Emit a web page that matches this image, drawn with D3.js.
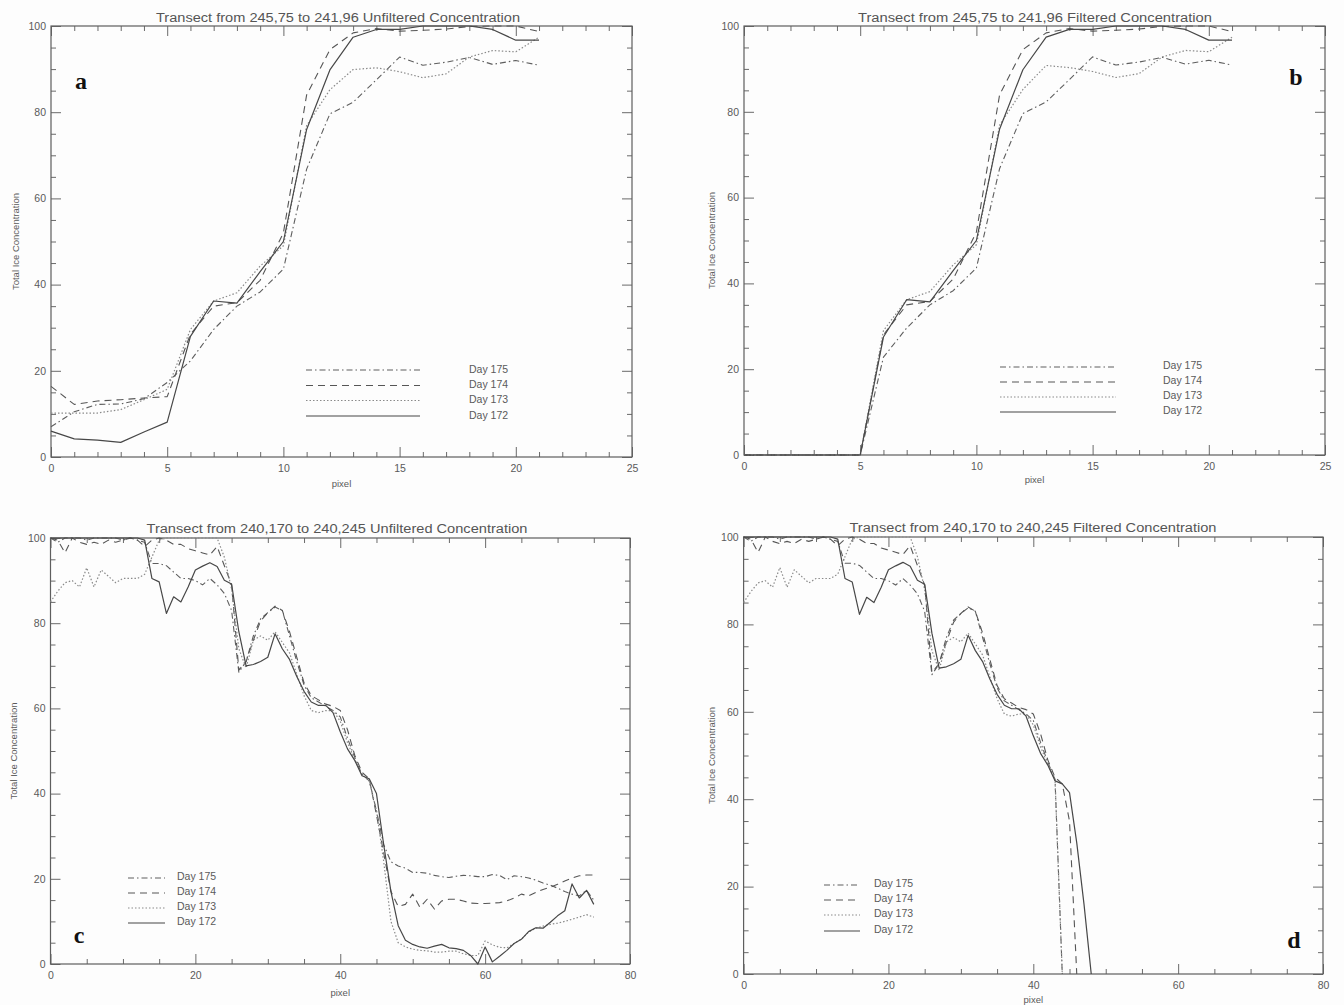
<!DOCTYPE html>
<html><head><meta charset="utf-8">
<script src="https://cdn.jsdelivr.net/npm/d3@7"></script>
<style>body{margin:0;background:#fdfdfd}svg{display:block}</style>
</head><body>
<script>
// ---------- DATA ----------
const days = ["Day 175", "Day 174", "Day 173", "Day 172"];

const pixelsTop = [0,1,2,3,4,5,6,7,8,9,10,11,12,13,14,15,16,17,18,19,20,21];
const pixelsBottom = [0,1,2,3,4,5,6,7,8,9,10,11,12,13,14,15,16,17,18,19,20,21,22,23,24,25,26,27,28,29,30,31,32,33,34,35,36,37,38,39,40,41,42,43,44,45,46,47,48,49,50,51,52,53,54,55,56,57,58,59,60,61,62,63,64,65,66,67,68,69,70,71,72,73,74,75];

const xTicksTop = [0,5,10,15,20,25];
const xTicksBottom = [0,20,40,60,80];
const yTicks = [0,20,40,60,80,100];

// panel a: unfiltered, transect 245,75 -> 241,96
const a175 = [7.0,10.5,12.2,12.3,13.5,17.3,22.3,29.6,35.0,38.3,43.6,66.8,79.6,82.3,87.5,92.8,90.9,91.6,92.7,91.1,92.0,90.9];
const a174 = [16.4,12.2,13.0,13.3,13.7,14.0,28.5,35.0,35.8,41.0,52.0,84.0,94.5,98.4,99.4,98.8,99.0,99.3,99.9,100,100,98.7];
const a173 = [10.2,10.2,10.2,11.0,13.3,15.7,29.6,36.2,38.1,44.3,49.0,76.9,85.2,89.9,90.3,89.4,88.0,88.9,92.8,94.3,94.0,97.4];
const a172 = [6.0,4.2,3.9,3.4,5.8,8.1,28.0,36.2,35.7,43.0,50.0,76.0,89.8,97.4,99.2,99.2,100,100,100,99.2,96.7,96.7];

// panel b: filtered, transect 245,75 -> 241,96
const b175 = [0,0,0,0,0,0,22.8,29.6,35.0,38.3,43.6,66.8,79.6,82.3,87.5,92.8,90.9,91.6,92.7,91.1,92.0,90.9];
const b174 = [0,0,0,0,0,0,28.0,35.0,35.8,41.0,52.0,84.0,94.5,98.4,99.4,98.8,99.0,99.3,99.9,100,100,98.7];
const b173 = [0,0,0,0,0,0,29.0,36.2,38.1,44.3,49.0,76.9,85.2,90.8,90.3,89.4,88.0,88.9,92.8,94.3,94.0,97.4];
const b172 = [0,0,0,0,0,0,27.5,36.2,35.7,43.0,50.0,76.0,89.8,97.4,99.2,99.2,100,100,100,99.2,96.7,96.7];

// panel c: unfiltered, transect 240,170 -> 240,245
const c175 = [100,99,100,100,100,99.5,100,100,100,100,99.5,100,99.5,99,
  94,94,93.5,92,90.5,90.5,90,89,90.5,89,87,83,
  68.5,71,77,81,82.5,83.8,83,77,71,65.5,62.5,61.5,60.5,59.5,58,53,48.5,44.5,43,36,28,24,23,22.5,
  21.5,21.5,21.3,20.8,20.5,20.3,20.6,20.8,20.7,20.5,20.5,21,20.8,19.8,20.7,20.5,20.2,19.7,19,18.5,17.8,17,16.4,16,17.3,15];
const c174 = [100,99.5,96.5,100,99,98.5,99,98.5,99.5,99,99.5,100,99.5,98,
  99.5,100,99.5,98.5,98.5,97.5,97,96.5,96,98,93.5,89,
  69,71,76,80.5,82.5,84,83,78,72,66,63,62,61,60.5,59.5,55,49,45,43.5,35,26,17,13.5,14,
  16.4,13.3,15.2,12.9,14.8,15.2,15.2,14.8,14.3,14.2,14.2,14.3,14.4,14.8,15.5,16.4,16,16.8,17.5,18,18.7,19.5,20.2,20.7,20.9,20.9];
const c173 = [85,87.5,89.5,90,88.5,93,88.5,92.5,91,89.5,90.5,90.5,90.5,91.5,
  95.5,99.5,100,100,100,100,100,100,100,100,95.5,88,
  74,69.5,76,77,76,78,75.5,73,68,63,59.5,59,59.5,59.5,57,52,48,44.5,43,36,24,10,5,4,
  3.5,3.2,3.1,2.8,2.8,3,3,2.4,2,2,5.4,4.5,3.9,3.8,4.8,5.8,7.5,8.4,8.9,9.3,9.6,10,10.5,11,11.6,11];
const c172 = [100,100,100,100,100,100,100,100,100,100,100,100,100,99.5,
  90.5,89.7,82.3,86.2,85,88.5,92.5,93.4,94.2,93.3,90.1,89.2,
  78,70,70.3,71,72,77.5,74,71.5,67.5,64,61.5,60.7,60.7,59,54.5,50.5,47.8,44.2,43.5,40,28,17,9,5.6,
  4.6,4,3.7,4.2,4.6,3.8,3.6,3.2,2,0,4,0.5,1.8,3.2,4.8,5.8,7.6,8.5,8.4,9.8,11.3,12.5,18.8,15.5,17.3,14];

// panel d: filtered, transect 240,170 -> 240,245 (series end where they fall to 0)
const d175 = [100,99,100,100,100,99.5,100,100,100,100,99.5,100,99.5,99,
  94,94,93.5,92,90.5,90.5,90,89,90.5,89,87,83,
  68.5,71,77,81,82.5,83.8,83,77,71,65.5,62.5,61.5,60.5,59.5,58,53,48.5,44.5,0];
const d174 = [100,99.5,96.5,100,99,98.5,99,98.5,99.5,99,99.5,100,99.5,98,
  99.5,100,99.5,98.5,98.5,97.5,97,96.5,96,98,93.5,89,
  69,71,76,80.5,82.5,84,83,78,72,66,63,62,61,60.5,59.5,55,49,45,43.5,35,0];
const d173 = [85,87.5,89.5,90,88.5,93,88.5,92.5,91,89.5,90.5,90.5,90.5,91.5,
  95.5,99.5,100,100,100,100,100,100,100,100,95.5,88,
  74,69.5,76,77,76,78,75.5,73,68,63,59.5,59,59.5,59.5,57,52,48,44.5,0];
const d172 = [100,100,100,100,100,100,100,100,100,100,100,100,100,99.5,
  90.5,89.7,82.3,86.2,85,88.5,92.5,93.4,94.2,93.3,90.1,89.2,
  78,70,70.3,71,72,77.5,74,71.5,67.5,64,61.5,60.7,60.7,59,54.5,50.5,47.8,44.2,43.5,41.5,30,16,0];

// ---------- STYLE ----------
const styles = {
  "Day 175": {dash: "6,3,1.5,3", color: "#5e5e5e", width: 1.1},
  "Day 174": {dash: "7,5", color: "#565656", width: 1.1},
  "Day 173": {dash: "1.5,2", color: "#8a8a8a", width: 1.2},
  "Day 172": {dash: null, color: "#474747", width: 1.2}
};

const W = 1344, H = 1005;
const svg = d3.select("body").append("svg").attr("width", W).attr("height", H)
  .style("background", "#fdfdfd");

const panels = [
  {title: "Transect from 245,75 to 241,96 Unfiltered Concentration", titleX: 338, titleY: 22, titleLen: 364,
   xs: pixelsTop, xDom: [0,25], xTicks: xTicksTop, xMinorStep: 1,
   left: 51, right: 632, top: 26, bottom: 457,
   series: [a175, a174, a173, a172],
   leg: {x1: 306, x2: 420, tx: 469, ys: [370, 385.5, 400.5, 416], tdy: -1},
   letter: {t: "a", x: 81, y: 89},
   ylabX: 16, xlabY: 487},
  {title: "Transect from 245,75 to 241,96 Filtered Concentration", titleX: 1035, titleY: 22, titleLen: 354,
   xs: pixelsTop, xDom: [0,25], xTicks: xTicksTop, xMinorStep: 1,
   left: 744, right: 1325, top: 26, bottom: 455,
   series: [b175, b174, b173, b172],
   leg: {x1: 1000, x2: 1116, tx: 1163, ys: [367, 382, 397, 412], tdy: -2},
   letter: {t: "b", x: 1296, y: 85},
   ylabX: 712, xlabY: 483},
  {title: "Transect from 240,170 to 240,245 Unfiltered Concentration", titleX: 337, titleY: 533, titleLen: 381,
   xs: pixelsBottom, xDom: [0,80], xTicks: xTicksBottom, xMinorStep: 5,
   left: 50.5, right: 630, top: 538, bottom: 964,
   series: [c175, c174, c173, c172],
   leg: {x1: 128, x2: 165, tx: 177, ys: [878, 893, 908, 923], tdy: -2},
   letter: {t: "c", x: 79, y: 943},
   ylabX: 14, xlabY: 996},
  {title: "Transect from 240,170 to 240,245 Filtered Concentration", titleX: 1033, titleY: 532, titleLen: 367,
   xs: pixelsBottom, xDom: [0,80], xTicks: xTicksBottom, xMinorStep: 5,
   left: 743.6, right: 1323, top: 537, bottom: 974,
   series: [d175, d174, d173, d172],
   leg: {x1: 824, x2: 860, tx: 874, ys: [885, 900, 915, 931], tdy: -2},
   letter: {t: "d", x: 1294, y: 948},
   ylabX: 712, xlabY: 1003}
];

const FONT = "'Liberation Sans', Arial, sans-serif";
const TXT = "#5a5a5a";

panels.forEach(p => {
  const g = svg.append("g");
  const x = d3.scaleLinear().domain(p.xDom).range([p.left, p.right]);
  const y = d3.scaleLinear().domain([0, 100]).range([p.bottom, p.top]);

  const xMinor = d3.range(p.xDom[0], p.xDom[1] + 0.001, p.xMinorStep).filter(v => !p.xTicks.includes(v));
  const yMinor = d3.range(0, 100.001, 5).filter(v => !yTicks.includes(v));

  function styleAxis(sel, labels) {
    sel.select(".domain").remove();
    sel.selectAll("line").attr("stroke", "#6a6a6a").attr("stroke-width", 1);
    sel.selectAll("text").attr("fill", TXT).style("font-family", FONT).style("font-size", "10.5px");
    if (!labels) sel.selectAll("text").remove();
  }
  // bottom
  g.append("g").attr("transform", `translate(0,${p.bottom})`)
    .call(d3.axisBottom(x).tickValues(p.xTicks).tickSize(-10).tickPadding(8).tickFormat(d3.format("d")))
    .call(s => styleAxis(s, true));
  g.append("g").attr("transform", `translate(0,${p.bottom})`)
    .call(d3.axisBottom(x).tickValues(xMinor).tickSize(-5)).call(s => styleAxis(s, false));
  // top
  g.append("g").attr("transform", `translate(0,${p.top})`)
    .call(d3.axisTop(x).tickValues(p.xTicks).tickSize(-10)).call(s => styleAxis(s, false));
  g.append("g").attr("transform", `translate(0,${p.top})`)
    .call(d3.axisTop(x).tickValues(xMinor).tickSize(-5)).call(s => styleAxis(s, false));
  // left
  g.append("g").attr("transform", `translate(${p.left},0)`)
    .call(d3.axisLeft(y).tickValues(yTicks).tickSize(-10).tickPadding(5).tickFormat(d3.format("d")))
    .call(s => styleAxis(s, true));
  g.append("g").attr("transform", `translate(${p.left},0)`)
    .call(d3.axisLeft(y).tickValues(yMinor).tickSize(-5)).call(s => styleAxis(s, false));
  // right
  g.append("g").attr("transform", `translate(${p.right},0)`)
    .call(d3.axisRight(y).tickValues(yTicks).tickSize(-10)).call(s => styleAxis(s, false));
  g.append("g").attr("transform", `translate(${p.right},0)`)
    .call(d3.axisRight(y).tickValues(yMinor).tickSize(-5)).call(s => styleAxis(s, false));

  // frame
  g.append("rect").attr("x", p.left).attr("y", p.top)
    .attr("width", p.right - p.left).attr("height", p.bottom - p.top)
    .attr("fill", "none").attr("stroke", "#5e5e5e").attr("stroke-width", 1.2);

  // title
  g.append("text").attr("x", p.titleX).attr("y", p.titleY).attr("text-anchor", "middle")
    .attr("textLength", p.titleLen).attr("lengthAdjust", "spacingAndGlyphs")
    .style("font-family", FONT).style("font-size", "12.5px").attr("fill", "#555").text(p.title);

  // axis labels
  g.append("text").attr("transform", `translate(${p.ylabX},${(p.top + p.bottom) / 2}) rotate(-90)`)
    .attr("text-anchor", "middle").attr("dy", "0.35em")
    .style("font-family", FONT).style("font-size", "9.5px").attr("fill", TXT).text("Total Ice Concentration");
  g.append("text").attr("x", (p.left + p.right) / 2).attr("y", p.xlabY).attr("text-anchor", "middle")
    .style("font-family", FONT).style("font-size", "9.5px").attr("fill", TXT).text("pixel");

  // lines
  const line = d3.line().x((d, i) => x(p.xs[i])).y(d => y(d));
  p.series.forEach((vals, k) => {
    const st = styles[days[k]];
    g.append("path").datum(vals).attr("d", line).attr("fill", "none")
      .attr("stroke", st.color).attr("stroke-width", st.width)
      .attr("stroke-dasharray", st.dash).attr("stroke-linejoin", "round");
  });

  // legend
  days.forEach((dname, k) => {
    const st = styles[dname];
    const ly = p.leg.ys[k];
    g.append("line").attr("x1", p.leg.x1).attr("x2", p.leg.x2).attr("y1", ly).attr("y2", ly)
      .attr("stroke", st.color).attr("stroke-width", st.width).attr("stroke-dasharray", st.dash);
    g.append("text").attr("x", p.leg.tx).attr("y", ly + p.leg.tdy).attr("dy", "0.35em")
      .style("font-family", FONT).style("font-size", "10.5px").attr("fill", TXT).text(dname);
  });

  // panel letter
  g.append("text").attr("x", p.letter.x).attr("y", p.letter.y).attr("text-anchor", "middle")
    .style("font-family", "'Liberation Serif', 'DejaVu Serif', serif").style("font-weight", "bold")
    .style("font-size", "24px").attr("fill", "#111").text(p.letter.t);
});
</script>
</body></html>
